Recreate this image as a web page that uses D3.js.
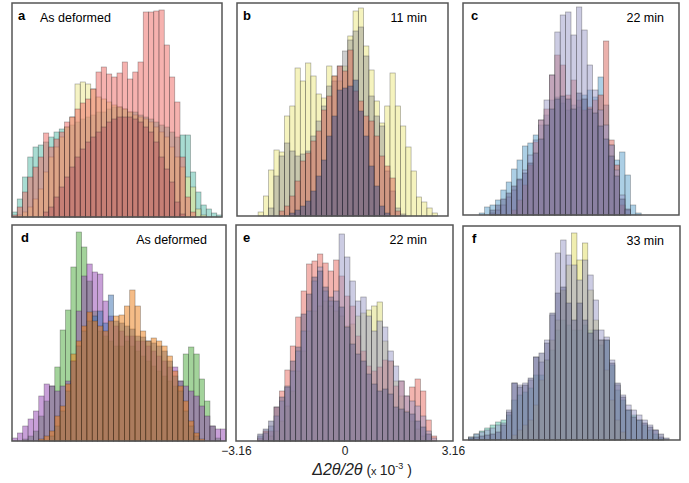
<!DOCTYPE html>
<meta charset="utf-8">
<style>
  body { margin: 0; background: #fff; }
  text { font-family: "Liberation Sans", Arial, sans-serif; }
</style>
<script src="https://d3js.org/d3.v7.min.js"></script>
<div id="chart"></div>
<script>
// histogram counts, 40 bins per panel
var aTeal   = [5,18,40,60,70,72,75,80,85,88,90,92,95,98,100,102,105,105,108,110,110,108,105,105,102,100,98,95,92,90,85,80,82,82,45,25,12,8,4,2];
var aYellow = [0,2,5,10,18,28,45,60,70,80,90,100,133,135,133,128,120,118,115,112,110,108,105,102,100,98,95,90,85,80,70,60,50,40,30,8,2,0,0,0];
var aSalmon = [2,10,25,40,50,60,84,70,78,85,95,100,108,114,118,128,145,150,143,140,144,155,138,145,155,205,205,206,207,172,140,115,60,20,5,0,0,0,0,0];
var aRed    = [0,0,0,0,0,0,5,10,20,30,40,50,60,68,75,80,85,90,95,98,100,100,100,98,95,90,85,75,60,48,35,15,3,0,0,0,0,0,0,0];

var bYellow = [0,0,0,0,4,20,46,66,64,100,110,148,135,153,140,122,118,150,140,135,150,180,205,208,170,146,115,93,110,143,110,90,69,45,19,14,8,3,0,0];
var bGrey   = [0,0,0,0,0,0,8,40,60,73,65,60,62,65,80,95,110,130,135,150,165,176,185,189,160,120,100,90,45,25,8,2,0,0,0,0,0,0,0,0];
var bRed    = [0,0,0,0,0,0,0,0,5,10,20,35,55,63,75,85,106,120,140,150,145,166,125,115,100,95,80,60,50,38,5,0,0,0,0,0,0,0,0,0];
var bNavy   = [0,0,0,0,0,0,0,0,0,0,3,6,10,15,25,40,56,80,100,126,128,130,136,105,80,50,30,10,3,0,0,0,0,0,0,0,0,0,0,0];

var cBlue   = [0,0,0,2,8,10,15,25,33,46,55,69,72,80,90,100,115,118,112,105,110,108,120,125,118,138,110,70,55,63,40,10,2,0,0,0,0,0,0,0];
var cRed    = [0,0,0,0,0,0,0,0,0,5,15,30,50,73,95,106,140,160,150,120,135,115,105,108,115,120,174,75,50,10,0,0,0,0,0,0,0,0,0,0];
var cLav    = [0,0,0,0,0,2,5,10,18,25,35,45,60,75,95,115,140,183,200,203,180,208,185,150,125,105,90,70,45,20,5,0,0,0,0,0,0,0,0,0];
var cSlate  = [0,0,0,0,0,5,10,16,22,29,36,42,52,62,76,90,106,116,119,116,106,122,116,106,102,89,76,59,39,16,6,0,0,0,0,0,0,0,0,0];

var dGreen  = [0,0,2,5,10,25,40,55,74,111,131,174,209,194,160,130,110,105,100,95,95,100,95,90,85,80,75,70,65,60,55,60,87,94,87,62,40,15,3,0];
var dPurple = [3,8,15,22,30,45,57,55,50,55,60,80,130,165,177,169,167,140,125,115,110,105,105,100,100,95,90,85,80,74,74,60,55,50,45,35,25,15,12,12];
var dBlue   = [0,0,0,0,0,0,0,5,15,30,50,80,95,110,120,125,130,118,146,120,118,115,112,105,104,100,98,95,90,80,65,50,30,15,5,0,0,0,0,0];
var dOrange = [0,0,0,0,0,2,5,10,25,35,57,87,100,115,129,120,115,110,120,125,126,135,151,135,110,100,103,100,95,85,70,55,40,20,8,2,0,0,0,0];

var eYellow = [0,0,0,0,0,0,5,10,20,35,50,70,90,110,130,135,140,135,130,125,115,117,125,128,131,135,139,100,80,60,45,30,20,12,5,0,0,0,0,0];
var eRed    = [0,0,0,0,3,10,10,34,50,71,95,124,150,177,180,187,178,170,181,165,145,135,105,90,75,70,74,81,80,55,60,45,54,62,50,21,5,0,0,0];
var eLav    = [0,0,0,0,5,8,15,25,40,55,70,90,110,130,160,174,150,140,150,207,184,160,140,144,125,110,120,114,90,75,60,45,40,35,25,10,3,0,0,0];
var eSlate  = [0,0,0,0,7,12,20,34,44,54,80,94,127,147,164,170,154,144,140,134,114,97,87,80,67,57,50,52,47,34,32,29,27,20,14,7,0,0,0,0];

var fTeal   = [0,3,6,9,12,15,18,20,25,40,45,48,52,65,65,80,90,110,120,115,110,110,115,110,100,95,100,75,50,40,30,25,20,15,10,6,2,0,0,0];
var fYellow = [0,0,0,0,0,0,0,0,0,5,10,15,20,35,60,80,100,120,150,175,207,180,197,150,120,100,70,40,20,8,0,0,0,0,0,0,0,0,0,0];
var fLav    = [0,3,6,8,10,12,15,17,30,57,55,57,60,83,78,100,125,187,200,185,175,160,180,165,140,110,103,80,55,45,35,30,25,20,15,10,3,0,0,0];
var fSlate  = [0,2,3,4,5,6,8,15,28,57,53,55,62,83,87,97,127,147,153,137,120,137,120,107,110,100,100,77,57,43,30,23,20,17,13,10,6,2,0,0];

var xTicks = [-3.16, 0, 3.16];
var nBins = 40;

var svg = d3.select("#chart").append("svg")
    .attr("width", 689)
    .attr("height", 483);

// panel boxes and the series drawn in each (bottom layer first)
var panels = [
  {id: "a", x: 12,  y: 3,   w: 210, h: 214, lx: 18,  label: "As deformed", tx: 40,  anchor: "start",
   series: [[aTeal, "#51b9a5"], [aYellow, "#ebe88a"], [aSalmon, "#ee6660"], [aRed, "#b05a64"]]},
  {id: "b", x: 237, y: 3,   w: 211, h: 213, lx: 243, label: "11 min", tx: 427, anchor: "end",
   series: [[bYellow, "#ebe77d"], [bGrey, "#9b9b9b"], [bRed, "#d86a5a"], [bNavy, "#3e5088"]]},
  {id: "c", x: 463, y: 3,   w: 216, h: 212, lx: 471, label: "22 min", tx: 664, anchor: "end",
   series: [[cBlue, "#5a9fcc"], [cRed, "#d8645a"], [cLav, "#9a9ac8"], [cSlate, "#666890"]]},
  {id: "d", x: 12,  y: 225, w: 214, h: 216, lx: 21,  label: "As deformed", tx: 207, anchor: "end",
   series: [[dGreen, "#48a838"], [dPurple, "#9141b1"], [dBlue, "#3a70b0"], [dOrange, "#ec7a10"]]},
  {id: "e", x: 236, y: 225, w: 217, h: 216, lx: 243, label: "22 min", tx: 427, anchor: "end",
   series: [[eYellow, "#dddd77"], [eRed, "#e86a60"], [eLav, "#9a9ac8"], [eSlate, "#666890"]]},
  {id: "f", x: 463, y: 226, w: 217, h: 214, lx: 472, label: "33 min", tx: 664, anchor: "end",
   series: [[fTeal, "#60c8b0"], [fYellow, "#e1dd61"], [fLav, "#9a9ac8"], [fSlate, "#666890"]]}
];

panels.forEach(function(p) {
  var x = d3.scaleLinear().domain([0, nBins]).range([p.x, p.x + p.w]);
  var y = d3.scaleLinear().domain([0, 214]).range([p.y + p.h, p.y + p.h - 214]);
  var g = svg.append("g");

  p.series.forEach(function(s) {
    var bins = s[0].map(function(v, i) { return {i: i, v: v}; })
                   .filter(function(d) { return d.v > 0; });
    g.append("g").selectAll("rect")
      .data(bins)
      .enter().append("rect")
        .attr("x", function(d) { return x(d.i); })
        .attr("y", function(d) { return y(d.v); })
        .attr("width", x(1) - x(0))
        .attr("height", function(d) { return y(0) - y(d.v); })
        .attr("fill", s[1])
        .attr("fill-opacity", 0.5)
        .attr("stroke", "#222")
        .attr("stroke-opacity", 0.4)
        .attr("stroke-width", 0.7);
  });

  g.append("rect")
    .attr("x", p.x).attr("y", p.y)
    .attr("width", p.w).attr("height", p.h)
    .attr("fill", "none")
    .attr("stroke", "#555")
    .attr("stroke-width", 1.5);

  g.append("text")
    .attr("x", p.lx).attr("y", p.y + 17)
    .attr("font-size", 13).attr("font-weight", "bold")
    .text(p.id);

  g.append("text")
    .attr("x", p.tx).attr("y", p.y + 19)
    .attr("font-size", 12.5)
    .attr("text-anchor", p.anchor)
    .text(p.label);
});

// x axis under panel e
var pe = panels[4];
var xe = d3.scaleLinear().domain([-3.16, 3.16]).range([pe.x, pe.x + pe.w]);
var axis = svg.append("g")
    .attr("transform", "translate(0," + (pe.y + pe.h) + ")")
    .call(d3.axisBottom(xe).tickValues(xTicks).tickSize(0).tickPadding(5)
      .tickFormat(function(d) { return d === 0 ? "0" : d3.format(".2f")(d); }));
axis.select(".domain").remove();
axis.selectAll("text")
    .attr("font-size", 12)
    .attr("fill", "#222")
    .style("font-family", "Liberation Sans, Arial, sans-serif");

var title = svg.append("text")
    .attr("x", 362).attr("y", 475)
    .attr("text-anchor", "middle")
    .attr("fill", "#222");
title.append("tspan").attr("font-size", 16).attr("font-style", "italic").text("\u0394\u0032\u03b8/2\u03b8");
title.append("tspan").attr("font-size", 14).text(" (");
title.append("tspan").attr("font-size", 11).text("x ");
title.append("tspan").attr("font-size", 14).text("10");
title.append("tspan").attr("font-size", 9).attr("dy", -6).text("-3");
title.append("tspan").attr("font-size", 14).attr("dy", 6).text(" )");
</script>
